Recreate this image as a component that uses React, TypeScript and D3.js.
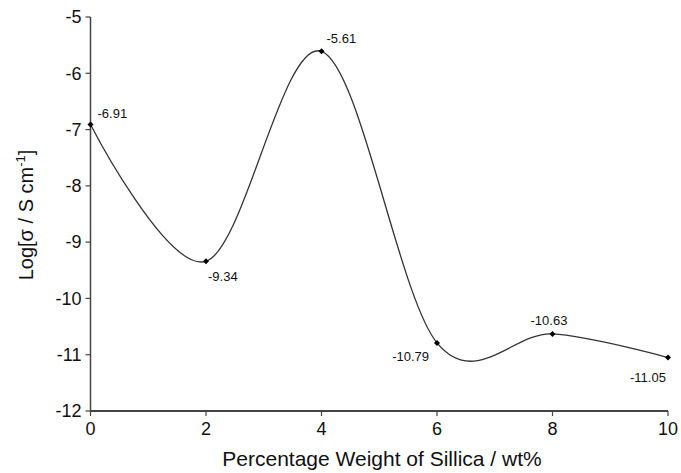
import React from "react";
import * as d3 from "d3";

const xValues = [0, 2, 4, 6, 8, 10];
const yValues = [-6.91, -9.34, -5.61, -10.79, -10.63, -11.05];
const pointLabels = ["-6.91", "-9.34", "-5.61", "-10.79", "-10.63", "-11.05"];
const xTicks = [0, 2, 4, 6, 8, 10];
const yTicks = [-5, -6, -7, -8, -9, -10, -11, -12];

// label offsets relative to point (dx, dy, anchor)
const labelOffsets: [number, number, string][] = [
  [7, -11, "start"],
  [2, 15, "start"],
  [5, -13, "start"],
  [-8, 14, "end"],
  [-22, -13, "start"],
  [-38, 20, "start"],
];

export default function App() {
  const W = 681, H = 473;
  const x = d3.scaleLinear().domain([0, 10]).range([90.5, 668]);
  const y = d3.scaleLinear().domain([-12, -5]).range([411, 17]);
  const pts: [number, number][] = xValues.map((v, i) => [x(v), y(yValues[i])]);
  const line = d3.line().curve(d3.curveCardinal.tension(0))(pts) as string;
  const font = "Liberation Sans, Arial, sans-serif";
  const axisColor = "#444";

  return (
    <svg width={W} height={H} style={{ position: "absolute", left: 0, top: 0, background: "#fff" }}>
      <rect width={W} height={H} fill="#fff" />
      {/* axes */}
      <line x1={x(0)} x2={x(0)} y1={y(-5)} y2={y(-12)} stroke={axisColor} strokeWidth={1.5} />
      <line x1={x(0)} x2={x(10)} y1={y(-12)} y2={y(-12)} stroke={axisColor} strokeWidth={1.8} />
      {yTicks.map((t) => (
        <g key={"y" + t}>
          <line x1={x(0) - 5} x2={x(0)} y1={y(t)} y2={y(t)} stroke={axisColor} strokeWidth={1.2} />
          <text x={x(0) - 9} y={y(t)} dy="0.35em" textAnchor="end" fontFamily={font} fontSize={18} fill="#111">
            {t}
          </text>
        </g>
      ))}
      {xTicks.map((t) => (
        <g key={"x" + t}>
          <line x1={x(t)} x2={x(t)} y1={y(-12)} y2={y(-12) + 5} stroke={axisColor} strokeWidth={1.2} />
          <text x={x(t)} y={y(-12) + 24} textAnchor="middle" fontFamily={font} fontSize={18} fill="#111">
            {t}
          </text>
        </g>
      ))}
      <text x={382} y={466} textAnchor="middle" fontFamily={font} fontSize={21} fill="#111">
        Percentage Weight of Sillica / wt%
      </text>
      <text transform={`translate(33, 215) rotate(-90)`} textAnchor="middle" fontFamily={font} fontSize={20} fill="#111">
        Log[σ / S cm<tspan dy="-8" fontSize={13}>-1</tspan><tspan dy="8">]</tspan>
      </text>
      {/* curve */}
      <path d={line} fill="none" stroke="#333" strokeWidth={1.3} />
      {pts.map(([px, py], i) => (
        <g key={"p" + i}>
          <path d={`M${px},${py - 3}L${px + 3},${py}L${px},${py + 3}L${px - 3},${py}Z`} fill="#000" />
          <text x={px + labelOffsets[i][0]} y={py + labelOffsets[i][1]} dy="0.35em" textAnchor={labelOffsets[i][2] as any} fontFamily={font} fontSize={13} fill="#111">
            {pointLabels[i]}
          </text>
        </g>
      ))}
    </svg>
  );
}
